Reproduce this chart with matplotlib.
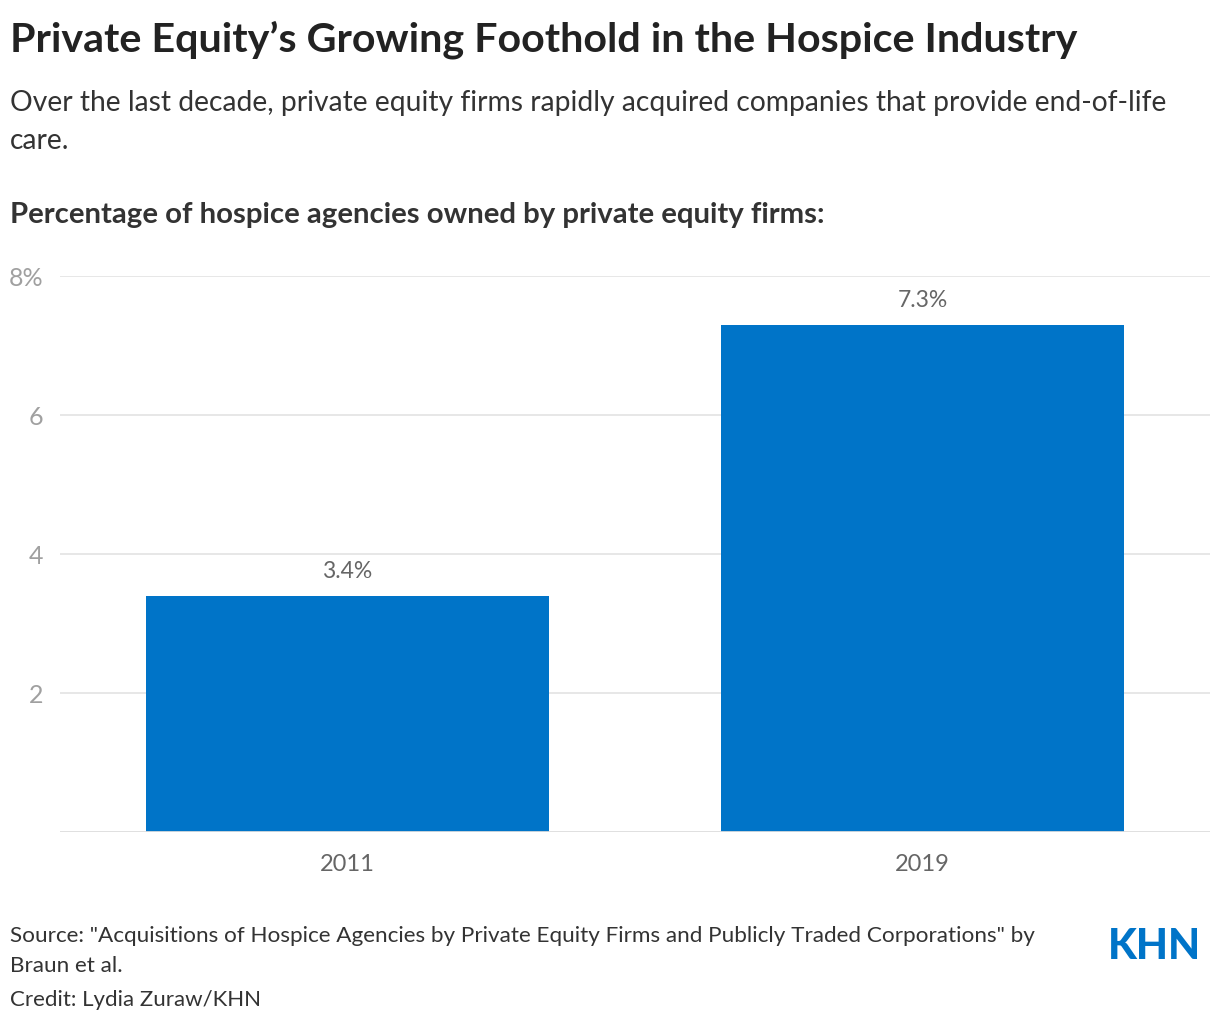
import matplotlib.pyplot as plt

years = ['2011', '2019']
shares = [3.4, 7.3]
yticks = [2, 4, 6, 8]
ytick_labels = ['2', '4', '6', '8%']

plt.rcParams['font.family'] = ['Lato', 'DejaVu Sans']

fig = plt.figure(figsize=(12.2, 10.22), dpi=100)
ax = fig.add_axes([60 / 1220, 190 / 1022, 1150 / 1220, 556 / 1022])

blue = '#0074c8'
x = range(len(years))
ax.bar(x, shares, width=0.7, color=blue, zorder=3)
for i, v in zip(x, shares):
    ax.text(i, v + 0.2, f'{v}%', ha='center', va='bottom', fontsize=16.5, color='#666666')

ax.set_xlim(-0.5, 1.5)
ax.set_ylim(0, 8)
ax.set_yticks(yticks)
ax.set_yticklabels(ytick_labels)
ax.set_xticks(list(x))
ax.set_xticklabels(years)
ax.grid(axis='y', color='#e3e3e3', linewidth=1.2, zorder=0)
ax.axhline(0, color='#dddddd', linewidth=2, zorder=4)
for s in ax.spines.values():
    s.set_visible(False)
ax.tick_params(axis='y', length=0, pad=12, labelsize=18, labelcolor='#a0a0a0')
ax.tick_params(axis='x', length=0, pad=16, labelsize=17, labelcolor='#666666')
for lab in ax.get_yticklabels():
    lab.set_horizontalalignment('right')

fig.text(10 / 1220, 1 - 40 / 1022, 'Private Equity\u2019s Growing Foothold in the Hospice Industry',
         fontsize=29.7, fontweight='bold', color='#222222', va='center')
fig.text(10 / 1220, 1 - 122 / 1022,
         'Over the last decade, private equity firms rapidly acquired companies that provide end-of-life\ncare.',
         fontsize=20.3, color='#333333', va='center', linespacing=1.55)
fig.text(10 / 1220, 1 - 215 / 1022, 'Percentage of hospice agencies owned by private equity firms:',
         fontsize=21.2, fontweight='bold', color='#333333', va='center')

fig.text(10 / 1220, 1 - 951 / 1022,
         'Source: "Acquisitions of Hospice Agencies by Private Equity Firms and Publicly Traded Corporations" by\nBraun et al.',
         fontsize=16.2, color='#333333', va='center', linespacing=1.6)
fig.text(10 / 1220, 1 - 1000 / 1022, 'Credit: Lydia Zuraw/KHN',
         fontsize=16, color='#333333', va='center')
fig.text(1154 / 1220, 1 - 947 / 1022, 'KHN', fontsize=30, fontweight='black', color=blue,
         ha='center', va='center')

fig.savefig('out.png', dpi=100)
